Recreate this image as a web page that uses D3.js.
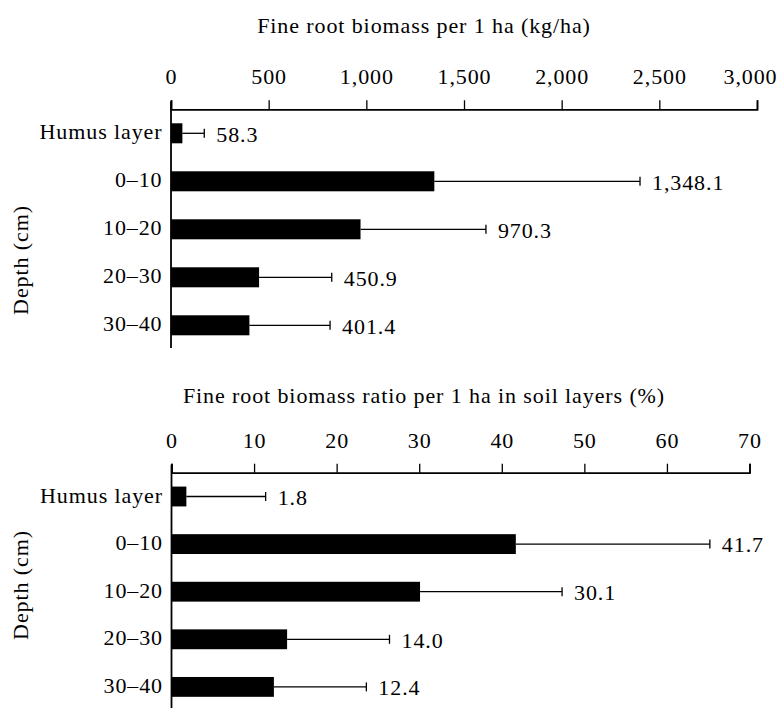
<!DOCTYPE html>
<html>
<head>
<meta charset="utf-8">
<script src="https://cdn.jsdelivr.net/npm/d3@7"></script>
<style>
  html, body { margin: 0; padding: 0; background: #fff; }
  svg { display: block; }
</style>
</head>
<body>
<svg id="chart" width="781" height="708"></svg>
<script>
// ---------- data ----------
const categories = ["Humus layer", "0\u201310", "10\u201320", "20\u201330", "30\u201340"];

const biomassValues = [58.3, 1348.1, 970.3, 450.9, 401.4];      // kg/ha
const biomassErrors = [112, 1053, 642, 372, 413];                // error bar length (kg/ha)
const biomassTicks  = [0, 500, 1000, 1500, 2000, 2500, 3000];

const ratioValues = [1.8, 41.7, 30.1, 14.0, 12.4];               // %
const ratioErrors = [9.6, 23.5, 17.2, 12.4, 11.2];               // error bar length (%)
const ratioTicks  = [0, 10, 20, 30, 40, 50, 60, 70];

const titles = [
  "Fine root biomass per 1 ha (kg/ha)",
  "Fine root biomass ratio per 1 ha in soil layers (%)"
];
const yTitle = "Depth (cm)";

// ---------- layout ----------
const FAMILY = "'Liberation Serif', 'Times New Roman', Times, 'DejaVu Serif', serif";
const FONT = 22, LS = 0.9;
const W = 781;
const svg = d3.select("#chart");

function styleText(sel) {
  return sel.attr("font-family", FAMILY)
    .attr("font-size", FONT)
    .attr("letter-spacing", LS)
    .attr("fill", "#000");
}

const panels = [
  { values: biomassValues, errors: biomassErrors, ticks: biomassTicks, max: 3000,
    tickFmt: d3.format(","), valFmt: d3.format(",.1f"), title: titles[0],
    xRange: [171, 757], axisY: 109.3, bandEnd: 349.3, yLineEnd: 348,
    titleY: 33, depthY: 260 },
  { values: ratioValues, errors: ratioErrors, ticks: ratioTicks, max: 70,
    tickFmt: d3.format("d"), valFmt: d3.format(".1f"), title: titles[1],
    xRange: [171.5, 749.5], axisY: 472.7, bandEnd: 710.7, yLineEnd: 708,
    titleY: 403, depthY: 585 }
];

panels.forEach(p => {
  const g = svg.append("g");
  const x = d3.scaleLinear().domain([0, p.max]).range(p.xRange);
  const y = d3.scaleBand().domain(categories).range([p.axisY, p.bandEnd])
              .paddingInner(0.583).paddingOuter(0.2915);

  // title
  styleText(g.append("text"))
    .attr("x", 424).attr("y", p.titleY)
    .attr("text-anchor", "middle")
    .text(p.title);

  // top axis
  const ax = g.append("g").attr("transform", `translate(0,${p.axisY})`)
    .call(d3.axisTop(x).tickValues(p.ticks).tickFormat(p.tickFmt)
            .tickSizeInner(9).tickSizeOuter(9).tickPadding(16));
  ax.attr("font-family", FAMILY).attr("font-size", FONT);
  ax.select(".domain").attr("stroke", "#000").attr("stroke-width", 1.8).attr("fill", "none");
  ax.selectAll(".tick line").attr("stroke", "#000").attr("stroke-width", 1.3);
  styleText(ax.selectAll(".tick text"));
  // keep the last tick label inside the canvas
  ax.selectAll(".tick").each(function(d) {
    const t = d3.select(this).select("text");
    const w = t.node().getComputedTextLength();
    const over = x(d) + w / 2 - (W - 4);
    if (over > 0) t.attr("dx", -over);
  });

  // vertical axis line
  g.append("line")
    .attr("x1", x(0)).attr("x2", x(0))
    .attr("y1", p.axisY - 8).attr("y2", p.yLineEnd)
    .attr("stroke", "#000").attr("stroke-width", 1.8);

  // category labels
  styleText(g.selectAll(".cat").data(categories).join("text"))
    .attr("x", x(0) - 8.5)
    .attr("y", d => y(d) + y.bandwidth() / 2)
    .attr("dy", "0.28em")
    .attr("text-anchor", "end")
    .text(d => d);

  const rows = categories.map((c, i) => ({ c, v: p.values[i], e: p.errors[i] }));

  // error bars
  const eb = g.selectAll(".err").data(rows).join("g");
  eb.append("line")
    .attr("x1", d => x(d.v)).attr("x2", d => x(d.v + d.e))
    .attr("y1", d => y(d.c) + y.bandwidth() / 2).attr("y2", d => y(d.c) + y.bandwidth() / 2)
    .attr("stroke", "#000").attr("stroke-width", 1.3);
  eb.append("line")
    .attr("x1", d => x(d.v + d.e)).attr("x2", d => x(d.v + d.e))
    .attr("y1", d => y(d.c) + y.bandwidth() / 2 - 4.5).attr("y2", d => y(d.c) + y.bandwidth() / 2 + 4.5)
    .attr("stroke", "#000").attr("stroke-width", 1.3);

  // bars
  g.selectAll(".bar").data(rows).join("rect")
    .attr("x", x(0))
    .attr("y", d => y(d.c))
    .attr("width", d => x(d.v) - x(0))
    .attr("height", y.bandwidth())
    .attr("fill", "#000");

  // value labels
  styleText(g.selectAll(".val").data(rows).join("text"))
    .attr("x", d => x(d.v + d.e) + 12)
    .attr("y", d => y(d.c) + y.bandwidth() / 2)
    .attr("dy", "0.38em")
    .text(d => p.valFmt(d.v));

  // y title
  styleText(g.append("text"))
    .attr("transform", `translate(28,${p.depthY}) rotate(-90)`)
    .attr("text-anchor", "middle")
    .text(yTitle);
});
</script>
</body>
</html>
